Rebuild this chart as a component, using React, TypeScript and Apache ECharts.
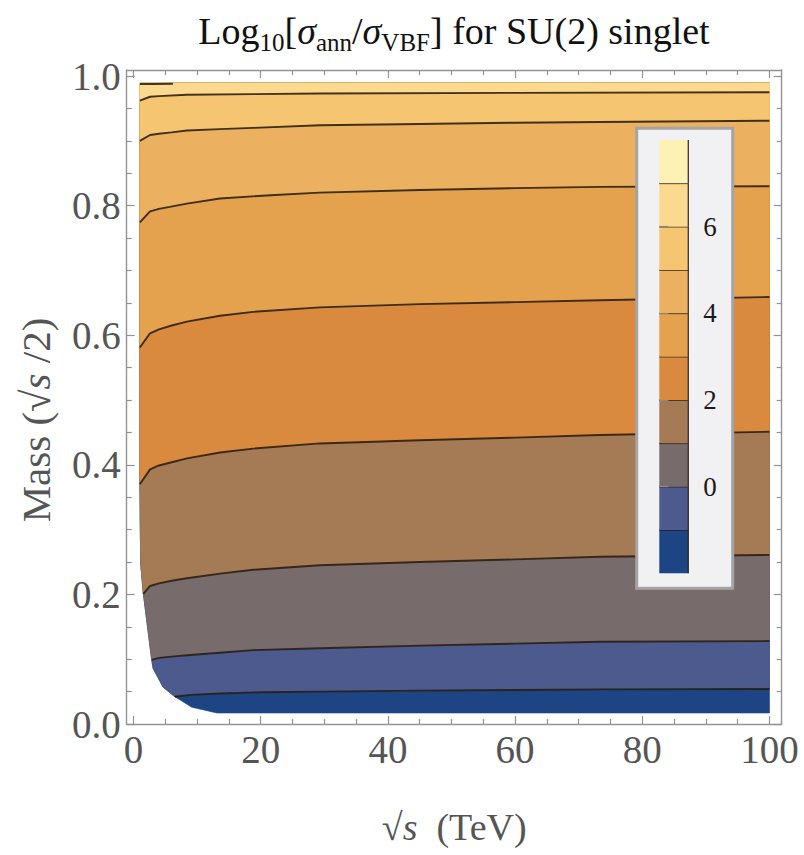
import React, { useEffect, useRef } from 'react';
import * as echarts from 'echarts';

// Frame ticks (major carry labels, minor are short marks)
const xMajorTicks = [0, 20, 40, 60, 80, 100];
const xMinorTicks = [5, 10, 15, 25, 30, 35, 45, 50, 55, 65, 70, 75, 85, 90, 95];
const yMajorTicks = [0, 0.2, 0.4, 0.6, 0.8, 1.0];
const yMinorTicks = [0.05, 0.1, 0.15, 0.25, 0.3, 0.35, 0.45, 0.5, 0.55, 0.65, 0.7, 0.75, 0.85, 0.9, 0.95];

// Contour levels of log10(sigma_ann / sigma_VBF)
const levels = [-1, 0, 1, 2, 3, 4, 5, 6, 7];

// Contour lines: [sqrt(s) in TeV, mass / (sqrt(s)/2)]
const contourM1 = [[6.5, 0.042], [9, 0.045], [13.6, 0.047], [20, 0.049], [29.3, 0.05], [45, 0.0515], [60, 0.0525], [73.3, 0.0535], [100, 0.054]];
const contour0 = [[2.86, 0.099], [4, 0.102], [6, 0.104], [8.4, 0.106], [13.6, 0.11], [18.8, 0.114], [29.3, 0.117], [45, 0.121], [60, 0.124], [73.3, 0.127], [100, 0.128]];
const contour1 = [[1.55, 0.201], [2.6, 0.213], [4, 0.217], [6, 0.221], [8.4, 0.225], [13.6, 0.232], [18.8, 0.238], [29.3, 0.245], [45, 0.25], [60, 0.254], [73.3, 0.258], [100, 0.261]];
const contour2 = [[1.0, 0.37], [2.6, 0.393], [4, 0.399], [6, 0.404], [8.4, 0.41], [13.6, 0.419], [18.8, 0.425], [29.3, 0.433], [45, 0.438], [60, 0.442], [73.3, 0.446], [100, 0.451]];
const contour3 = [[1.0, 0.581], [2.6, 0.603], [4, 0.609], [6, 0.615], [8.4, 0.621], [13.6, 0.63], [18.8, 0.636], [29.3, 0.643], [45, 0.648], [60, 0.651], [73.3, 0.654], [100, 0.659]];
const contour4 = [[1.0, 0.774], [2.6, 0.791], [4, 0.795], [5.7, 0.798], [8.4, 0.803], [13.6, 0.811], [21.5, 0.816], [29.3, 0.82], [45, 0.824], [60, 0.827], [73.3, 0.829], [100, 0.83]];
const contour5 = [[1.0, 0.9], [2.6, 0.909], [4, 0.911], [6, 0.913], [8.4, 0.916], [13.6, 0.918], [18.8, 0.92], [29.3, 0.924], [45, 0.926], [60, 0.928], [73.3, 0.929], [100, 0.931]];
const contour6 = [[1.0, 0.962], [2.6, 0.968], [4, 0.969], [8.4, 0.971], [18.8, 0.972], [29.3, 0.973], [60, 0.974], [100, 0.975]];
const contour7 = [[1.0, 0.9876], [3, 0.9878], [6.2, 0.988]];
const contours = [contourM1, contour0, contour1, contour2, contour3, contour4, contour5, contour6, contour7];

// Fill of each band: below -1, then above each level in turn
const bandColors = ['#1d4583', '#4c5a8d', '#786b6b', '#a57b56', '#d98a3f', '#e4a14e', '#ecb160', '#f5c572', '#fbd98e', '#fdf1b4'];

// Kinematic edge of the sampled region (lower-left cut-off, then the floor)
const edgeX = [1.0, 1.0, 1.13, 1.54, 2.86, 3.07, 4.64, 6.5, 9.15, 13.1, 100];
const edgeY = [0.989, 0.377, 0.248, 0.202, 0.099, 0.086, 0.057, 0.042, 0.026, 0.017, 0.017];
const domainTop = 0.989;
const domainRight = 100;

// Colour bar scale
const colorbarMin = -2;
const colorbarMax = 8;
const colorbarTicks = [0, 2, 4, 6];

const SERIF = "'Liberation Serif', 'Times New Roman', serif";
const FRAME = '#939393';
const LABEL = '#555555';
const LINE = 'rgba(40,28,16,0.88)';

function bandPolygon(k: number): number[][] {
  const pts: number[][] = [];
  if (k === 0) {
    for (let i = 0; i < edgeX.length; i++) pts.push([edgeX[i], edgeY[i]]);
    pts.push([domainRight, domainTop]);
    return pts;
  }
  const c = contours[k - 1];
  c.forEach((p) => pts.push(p));
  const first = c[0];
  const last = c[c.length - 1];
  if (last[0] < domainRight) {
    pts.push([last[0], domainTop]);
    pts.push([first[0], domainTop]);
    return pts;
  }
  pts.push([domainRight, domainTop]);
  pts.push([edgeX[0], domainTop]);
  for (let i = 1; i < edgeX.length; i++) {
    if (edgeY[i] > first[1] && edgeY[i] < domainTop) pts.push([edgeX[i], edgeY[i]]);
  }
  return pts;
}

function frameAxis(dim: 'x' | 'y', position: string, ticks: number[], len: number, withLine: boolean, extra: any = {}) {
  const range = dim === 'x' ? { min: -1.07, max: 101.92 } : { min: 0, max: 1.0093 };
  return {
    type: 'value',
    gridIndex: 0,
    position,
    ...range,
    axisLine: { show: withLine, onZero: false, lineStyle: { color: FRAME, width: 1.4 } },
    axisTick: { show: true, inside: true, length: len, customValues: ticks, lineStyle: { color: FRAME, width: 1.2 } },
    axisLabel: { show: false },
    splitLine: { show: false },
    ...extra,
  };
}

export default function App() {
  const ref = useRef<HTMLDivElement>(null);

  useEffect(() => {
    if (!ref.current) return;
    const chart = echarts.init(ref.current, undefined, { renderer: 'svg' });

    const xAxis: any[] = [
      frameAxis('x', 'bottom', xMajorTicks, 8, true, {
        axisLabel: { show: true, customValues: xMajorTicks, fontSize: 39, fontFamily: SERIF, color: LABEL, margin: 6 },
        name: '√{i|s}  (TeV)',
        nameLocation: 'middle',
        nameGap: 84,
        nameTextStyle: {
          fontSize: 38,
          fontFamily: SERIF,
          color: LABEL,
          rich: { i: { fontSize: 38, fontFamily: SERIF, fontStyle: 'italic', color: LABEL } },
        },
      }),
      frameAxis('x', 'bottom', xMinorTicks, 5, false),
      frameAxis('x', 'top', xMajorTicks, 8, true),
      frameAxis('x', 'top', xMinorTicks, 5, false),
      { type: 'value', gridIndex: 1, min: 0, max: 1, show: false },
    ];
    const yAxis: any[] = [
      frameAxis('y', 'left', yMajorTicks, 8, true, {
        axisLabel: {
          show: true,
          customValues: yMajorTicks,
          fontSize: 39,
          fontFamily: SERIF,
          color: LABEL,
          margin: 6,
          formatter: (v: number) => v.toFixed(1),
        },
      }),
      frameAxis('y', 'left', yMinorTicks, 5, false),
      frameAxis('y', 'right', yMajorTicks, 8, true),
      frameAxis('y', 'right', yMinorTicks, 5, false),
      {
        type: 'value',
        gridIndex: 1,
        position: 'right',
        min: colorbarMin,
        max: colorbarMax,
        z: 12,
        axisLine: { show: false },
        axisTick: { show: true, length: 9, customValues: colorbarTicks, lineStyle: { color: '#8a8a8a', width: 1.2 } },
        axisLabel: { show: true, customValues: colorbarTicks, fontSize: 27, fontFamily: SERIF, color: '#1a1a1a', margin: 15 },
        splitLine: { show: false },
      },
    ];

    const lineSeries = contours.map((c, i) => ({
      type: 'line',
      name: 'level ' + levels[i],
      xAxisIndex: 0,
      yAxisIndex: 0,
      data: c,
      showSymbol: false,
      symbol: 'none',
      silent: true,
      z: 3,
      lineStyle: { color: LINE, width: 1.9 },
    }));

    const colorbarLow = [colorbarMin, ...levels];

    chart.setOption({
      animation: false,
      backgroundColor: '#ffffff',
      grid: [
        { left: 126.7, right: 22.3, top: 70, bottom: 131 },
        { left: 659.3, width: 29, top: 140, height: 433.3, z: 12 },
      ],
      xAxis,
      yAxis,
      graphic: [
        {
          type: 'rect',
          z: 5,
          shape: { x: 636.7, y: 128.3, width: 96, height: 460 },
          style: { fill: '#f1f1f3', stroke: '#a4a4a4', lineWidth: 3 },
        },
        {
          type: 'text',
          z: 10,
          x: 454,
          y: 31,
          style: {
            text: '{n|Log}{s|10}{n|[}{i|σ}{s|ann}{n|/}{i|σ}{s|VBF}{n|] for SU(2) singlet}',
            align: 'center',
            verticalAlign: 'middle',
            fill: '#111',
            rich: {
              n: { fontSize: 38, fontFamily: SERIF, fill: '#111', lineHeight: 47, verticalAlign: 'middle' },
              i: { fontSize: 38, fontFamily: SERIF, fontStyle: 'italic', fill: '#111', lineHeight: 47, verticalAlign: 'middle' },
              s: { fontSize: 25, fontFamily: SERIF, fill: '#111', lineHeight: 25, verticalAlign: 'bottom' },
            },
          },
        },
        {
          type: 'text',
          z: 10,
          x: 36,
          y: 420,
          rotation: Math.PI / 2,
          style: {
            text: '{n|Mass (√}{i|s}{n| /2)}',
            align: 'center',
            verticalAlign: 'middle',
            fill: LABEL,
            rich: {
              n: { fontSize: 41, fontFamily: SERIF, fill: LABEL },
              i: { fontSize: 41, fontFamily: SERIF, fontStyle: 'italic', fill: LABEL },
            },
          },
        },
      ],
      series: [
        {
          type: 'custom',
          name: 'bands',
          coordinateSystem: 'cartesian2d',
          xAxisIndex: 0,
          yAxisIndex: 0,
          silent: true,
          z: 1,
          data: bandColors.map((_, k) => [k, 0]),
          renderItem: (_params: any, api: any) => {
            const k = api.value(0);
            const points = bandPolygon(k).map((p) => api.coord(p));
            return {
              type: 'polygon',
              shape: { points },
              style: { fill: bandColors[k], stroke: bandColors[k], lineWidth: 0.6 },
            };
          },
        },
        ...lineSeries,
        {
          type: 'custom',
          name: 'colorbar',
          coordinateSystem: 'cartesian2d',
          xAxisIndex: 4,
          yAxisIndex: 4,
          silent: true,
          z: 12,
          data: colorbarLow.map((_, k) => [k, 0]),
          renderItem: (_params: any, api: any) => {
            const k = api.value(0);
            const lo = colorbarLow[k];
            const hi = k < levels.length ? levels[k] : colorbarMax;
            const p0 = api.coord([0, lo]);
            const p1 = api.coord([1, hi]);
            const children: any[] = [
              {
                type: 'rect',
                shape: { x: p0[0], y: p1[1], width: p1[0] - p0[0], height: p0[1] - p1[1] },
                style: { fill: bandColors[k] },
              },
              {
                type: 'line',
                shape: { x1: p1[0], y1: p0[1], x2: p1[0], y2: p1[1] },
                style: { stroke: LINE, lineWidth: 1.3 },
              },
            ];
            if (hi < colorbarMax) {
              children.push({
                type: 'line',
                shape: { x1: p0[0], y1: p1[1], x2: p1[0], y2: p1[1] },
                style: { stroke: LINE, lineWidth: 1.6 },
              });
            }
            return { type: 'group', children };
          },
        },
      ],
    });

    return () => chart.dispose();
  }, []);

  return <div ref={ref} style={{ position: 'absolute', left: 0, top: 0, width: 804, height: 855 }} />;
}
